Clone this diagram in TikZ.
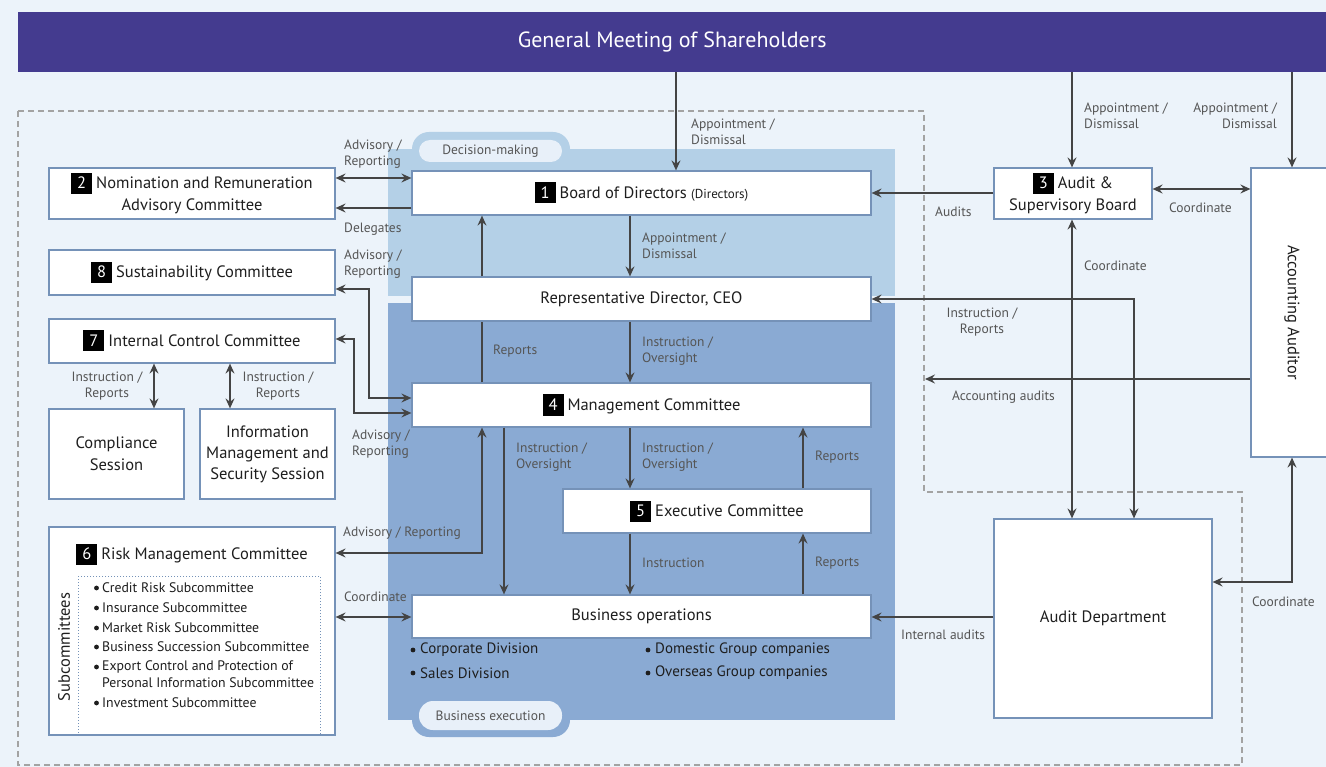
\documentclass[tikz,border=0pt]{standalone}
\usepackage{fontspec}
\setmainfont{PT Sans}
\usetikzlibrary{arrows.meta}

\definecolor{bgc}{HTML}{ECF3FA}
\definecolor{bannerc}{HTML}{443B8F}
\definecolor{decc}{HTML}{B4D0E7}
\definecolor{busc}{HTML}{8AAAD3}
\definecolor{pillc}{HTML}{E8F0F9}
\definecolor{boxline}{HTML}{7592B8}
\definecolor{arrowc}{HTML}{444444}
\definecolor{lblc}{HTML}{555555}
\definecolor{txtc}{HTML}{1E1E1E}
\definecolor{dashc}{HTML}{A3A3A3}

\newcommand\NodeFnt{\fontsize{16.5}{22}\selectfont}
\newcommand\LblFnt{\fontsize{13.5}{16}\selectfont}
\newcommand\SubFnt{\fontsize{13.8}{16}\selectfont}
\newcommand\Badge[1]{{\setlength{\fboxsep}{0pt}\colorbox{black}{\rule[-5pt]{0pt}{21pt}\makebox[21pt]{\color{white}#1}}}\hspace{4pt}}

\tikzset{
  box/.style={draw=boxline, line width=1.2pt, fill=white, inner sep=2pt,
    font=\NodeFnt, text=txtc, align=center},
  lbl/.style={font=\LblFnt, text=lblc, inner sep=0pt},
  subitem/.style={font=\SubFnt, text=txtc, inner sep=0pt, anchor=west, align=left},
  pill/.style={fill=pillc, rounded corners=11pt, font=\LblFnt, text=lblc, inner sep=0pt},
  tip/.tip={Stealth[length=10pt,width=9pt,inset=3.5pt]},
  arr/.style={draw=arrowc, line width=1.6pt, -tip},
  arrs/.style={draw=arrowc, line width=1.6pt, tip-tip},
  plain/.style={draw=arrowc, line width=1.6pt},
}

\begin{document}
\begin{tikzpicture}[x=1pt,y=-1pt]
% canvas
\fill[bgc] (0,0) rectangle (1326,767);
\useasboundingbox (0,0) rectangle (1326,767);

% banner
\node[fill=bannerc, minimum width=1308, minimum height=60, anchor=north west, inner sep=0pt,
  text=white, font=\fontsize{22}{24}\selectfont] (gm) at (18,12) {General Meeting of Shareholders};

% dashed outline of the company
\draw[dashc, line width=1.5pt, dash pattern=on 6pt off 4pt]
  (18,111) -- (924,111) -- (924,492) -- (1242,492) -- (1242,765) -- (18,765) -- cycle;

% decision-making and business execution areas
\fill[decc] (388,149) rectangle (895,296);
\fill[decc, rounded corners=17pt] (412,132) rectangle (570,170);
\node[pill, minimum width=143, minimum height=22] (dm) at (490.5,151) {Decision-making};

\fill[busc] (388,303) rectangle (895,720);
\fill[busc, rounded corners=17pt] (412,700) rectangle (570,737);
\node[pill, rounded corners=14pt, minimum width=143, minimum height=29] (be) at (490.5,715.5) {Business execution};

% committees on the left
\node[box, minimum width=286, minimum height=51] (nom) at (192,193.5)
  {\Badge{2}Nomination and Remuneration\\Advisory Committee};
\node[box, minimum width=286, minimum height=45] (sus) at (192,272.5)
  {\Badge{8}Sustainability Committee};
\node[box, minimum width=286, minimum height=44] (icc) at (192,341)
  {\Badge{7}Internal Control Committee};
\node[box, minimum width=135, minimum height=90] (comp) at (116.5,454)
  {Compliance\\Session};
\node[box, minimum width=135, minimum height=90, font=\fontsize{16.5}{21}\selectfont] (info) at (267.5,454)
  {Information\\Management and\\Security Session};
\node[box, minimum width=286, minimum height=208] (risk) at (192,631) {};
\node[font=\NodeFnt, text=txtc, inner sep=0pt] (risktitle) at (192,554)
  {\Badge{6}Risk Management Committee};
\draw[boxline, line width=1pt, dotted] (78,576) rectangle (320,735);
\node[rotate=90, font=\fontsize{16.5}{18}\selectfont, text=txtc, inner sep=0pt] (subc) at (64,647) {Subcommittees};

% subcommittee list
\foreach \yy in {588,608,628,647,667,703} \fill[txtc] (96.5,\yy) circle (2.4pt);
\node[subitem] (s1) at (102,588) {Credit Risk Subcommittee};
\node[subitem] (s2) at (102,608) {Insurance Subcommittee};
\node[subitem] (s3) at (102,628) {Market Risk Subcommittee};
\node[subitem] (s4) at (102,647) {Business Succession Subcommittee};
\node[subitem] (s5a) at (102,667) {Export Control and Protection of};
\node[subitem] (s5b) at (102,683) {Personal Information Subcommittee};
\node[subitem] (s6) at (102,703) {Investment Subcommittee};

% central column
\node[box, minimum width=459, minimum height=44] (board) at (641.5,193)
  {\Badge{1}Board of Directors {\fontsize{13}{14}\selectfont(Directors)}};
\node[box, minimum width=459, minimum height=44] (ceo) at (641.5,299)
  {Representative Director, CEO};
\node[box, minimum width=459, minimum height=44] (mgmt) at (641.5,405)
  {\Badge{4}Management Committee};
\node[box, minimum width=308, minimum height=44] (exec) at (717,511)
  {\Badge{5}Executive Committee};
\node[box, minimum width=459, minimum height=43] (bus) at (641.5,616.5)
  {Business operations};

% business operations members
\foreach \xx/\yy in {413/650,413/673,648/650,648/673} \fill[txtc] (\xx,\yy) circle (2.4pt);
\node[subitem, font=\fontsize{15}{16}\selectfont] (bo1) at (420,650) {Corporate Division};
\node[subitem, font=\fontsize{15}{16}\selectfont] (bo2) at (420,673) {Sales Division};
\node[subitem, font=\fontsize{15}{16}\selectfont] (bo3) at (655,650) {Domestic Group companies};
\node[subitem, font=\fontsize{15}{16}\selectfont] (bo4) at (655,673) {Overseas Group companies};

% audit side
\node[box, minimum width=158, minimum height=51] (ab) at (1073,193.5)
  {\Badge{3}Audit \&\\Supervisory Board};
\node[box, minimum width=82, minimum height=289] (acc) at (1292,312.5) {};
\node[rotate=-90, font=\NodeFnt, text=txtc, inner sep=0pt] (acct) at (1292,312.5) {Accounting Auditor};
\node[box, minimum width=218, minimum height=199] (ad) at (1103,618.5) {Audit Department};

% guide coordinates for connector positions
\foreach \v in {154,230,354,369,482,504,630,676,803,1072,1134,1292}
  \coordinate (c\v) at (\v,0);
\foreach \v in {178,189,193,208,289,299,339,379,398,413,553,582,617}
  \coordinate (r\v) at (0,\v);
\coordinate (aaend) at (925,379);

% connectors
\draw[arr] (gm.south -| c676) -- (board.north -| c676);
\draw[arr] (gm.south -| c1072) -- (ab.north -| c1072);
\draw[arr] (gm.south -| c1292) -- (acc.north -| c1292);

\draw[arrs] (nom.east |- r178) -- (board.west |- r178);
\draw[arr] (board.west |- r208) -- (nom.east |- r208);
\draw[arrs] (sus.east |- r289) -| (c369 |- r398) -- (mgmt.west |- r398);
\draw[arrs] (icc.east |- r339) -| (c354 |- r413) -- (mgmt.west |- r413);
\draw[arrs] (icc.south -| c154) -- (comp.north -| c154);
\draw[arrs] (icc.south -| c230) -- (info.north -| c230);
\draw[arrs] (risk.east |- r553) -| (mgmt.south -| c482);
\draw[arrs] (risk.east |- r617) -- (bus.west |- r617);

\draw[arr] (board.south -| c630) -- (ceo.north -| c630);
\draw[arr] (ceo.north -| c482) -- (board.south -| c482);
\draw[plain] (mgmt.north -| c482) -- (ceo.south -| c482);
\draw[arr] (ceo.south -| c630) -- (mgmt.north -| c630);
\draw[arr] (mgmt.south -| c630) -- (exec.north -| c630);
\draw[arr] (exec.north -| c803) -- (mgmt.south -| c803);
\draw[arr] (exec.south -| c630) -- (bus.north -| c630);
\draw[arr] (bus.north -| c803) -- (exec.south -| c803);
\draw[arr] (mgmt.south -| c504) -- (bus.north -| c504);

\draw[arr] (ab.west |- r193) -- (board.east |- r193);
\draw[arrs] (ab.east |- r189) -- (acc.west |- r189);
\draw[arrs] (ab.south -| c1072) -- (ad.north -| c1072);
\draw[arrs] (ad.north -| c1134) |- (ceo.east |- r299);
\draw[arr] (acc.west |- r379) -- (aaend);
\draw[arrs] (ad.east |- r582) -| (acc.south -| c1292);
\draw[arr] (ad.west |- r617) -- (bus.east |- r617);

% connector labels
\node[lbl, anchor=west, align=left] (l1) at (691,132) {Appointment /\\Dismissal};
\node[lbl, anchor=west, align=left] (l2) at (1084,116) {Appointment /\\Dismissal};
\node[lbl, anchor=east, align=right] (l3) at (1277,116) {Appointment /\\Dismissal};
\node[lbl, anchor=west, align=left] (l4) at (344,154) {Advisory /\\Reporting};
\node[lbl, anchor=west] (l5) at (344,229) {Delegates};
\node[lbl, anchor=west, align=left] (l6) at (344,264) {Advisory /\\Reporting};
\node[lbl, anchor=west, align=left] (l7) at (642,246) {Appointment /\\Dismissal};
\node[lbl, anchor=west] (l8) at (493,351) {Reports};
\node[lbl, anchor=west, align=left] (l9) at (642,351) {Instruction /\\Oversight};
\node[lbl, align=center] (l10) at (107,386) {Instruction /\\Reports};
\node[lbl, align=center] (l11) at (278,386) {Instruction /\\Reports};
\node[lbl, anchor=west, align=left] (l12) at (352,444) {Advisory /\\Reporting};
\node[lbl, anchor=west, align=left] (l13) at (516,457) {Instruction /\\Oversight};
\node[lbl, anchor=west, align=left] (l14) at (642,457) {Instruction /\\Oversight};
\node[lbl, anchor=west] (l15) at (815,457) {Reports};
\node[lbl, anchor=west] (l16) at (343,533) {Advisory / Reporting};
\node[lbl, anchor=west] (l17) at (642,563) {Instruction};
\node[lbl, anchor=west] (l18) at (815,563) {Reports};
\node[lbl, anchor=west] (l19) at (344,597) {Coordinate};
\node[lbl, anchor=west] (l20) at (935,212) {Audits};
\node[lbl, anchor=west] (l21) at (1169,208) {Coordinate};
\node[lbl, anchor=west] (l22) at (1084,266) {Coordinate};
\node[lbl, align=center] (l23) at (982,322) {Instruction /\\Reports};
\node[lbl, anchor=west] (l24) at (952,397) {Accounting audits};
\node[lbl, anchor=west] (l25) at (1252,602) {Coordinate};
\node[lbl, anchor=west] (l26) at (901,635) {Internal audits};
\end{tikzpicture}
\end{document}
